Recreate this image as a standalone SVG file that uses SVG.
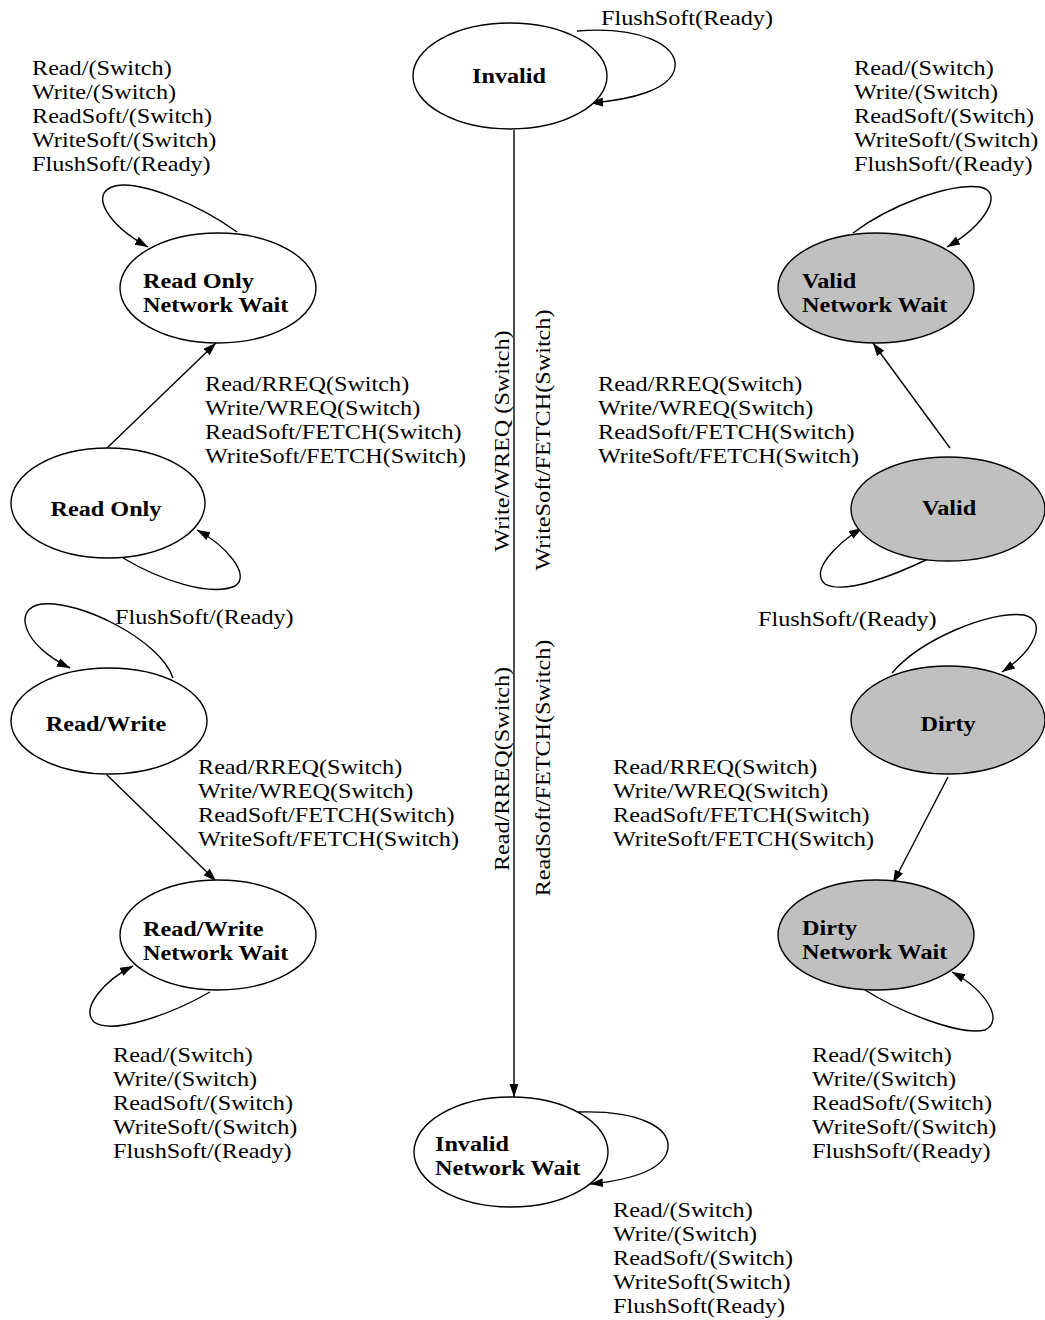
<svg xmlns="http://www.w3.org/2000/svg" width="1045" height="1320" viewBox="0 0 1045 1320">
<defs>
<marker id="arr" markerUnits="userSpaceOnUse" markerWidth="14" markerHeight="10" refX="13" refY="4.5" orient="auto">
<path d="M0,0 L13,4.5 L0,9 z" fill="#000"/>
</marker>
</defs>
<style>
.node ellipse{stroke:#000;stroke-width:1.4}
.w{fill:#fff}
.g{fill:#c0c0c0}
.nl{font-family:"Liberation Serif","Times New Roman",serif;font-size:22px;font-weight:bold;fill:#000}
.el{font-family:"Liberation Serif","Times New Roman",serif;font-size:22px;fill:#000}
.edges path{fill:none;stroke:#000;stroke-width:1.4;marker-end:url(#arr)}
</style>
<rect width="1045" height="1320" fill="#fff"/>

<g id="edges" class="edges">
<path d="M514,130 L514,1097"/>
<path d="M577,31 C640,26 678,45 675,67 C672,90 630,100 590,103"/>
<path d="M578,1112 C640,1110 670,1128 668,1148 C665,1170 630,1180 590,1184"/>
<path d="M237,232 C200,205 140,180 115,186 C88,193 108,225 148,247"/>
<path d="M123,558 C160,580 210,597 235,586 C252,575 225,545 197,530"/>
<path d="M173,678 C160,640 80,600 42,604 C12,608 22,645 70,668"/>
<path d="M210,992 C170,1015 112,1035 94,1022 C80,1008 105,980 133,966"/>
<path d="M853,233 C890,205 950,183 980,187 C1005,192 985,225 947,247"/>
<path d="M930,558 C895,575 845,595 825,584 C810,571 835,545 862,528"/>
<path d="M892,673 C920,640 990,610 1024,615 C1048,621 1035,650 1002,672"/>
<path d="M865,990 C900,1012 960,1036 985,1030 C1005,1020 985,990 952,972"/>
<path d="M107,448 L216,343"/>
<path d="M950,448 L873,343"/>
<path d="M107,775 L216,881"/>
<path d="M948,777 L893,883"/>
</g>

<g id="edge-labels">
<g transform="translate(601,25) scale(1.1,1)"><text class="el">FlushSoft(Ready)</text></g>
<g transform="translate(32,75) scale(1.1,1)"><text class="el"><tspan x="0" y="0">Read/(Switch)</tspan><tspan x="0" dy="24">Write/(Switch)</tspan><tspan x="0" dy="24">ReadSoft/(Switch)</tspan><tspan x="0" dy="24">WriteSoft/(Switch)</tspan><tspan x="0" dy="24">FlushSoft/(Ready)</tspan></text></g>
<g transform="translate(854,75) scale(1.1,1)"><text class="el"><tspan x="0" y="0">Read/(Switch)</tspan><tspan x="0" dy="24">Write/(Switch)</tspan><tspan x="0" dy="24">ReadSoft/(Switch)</tspan><tspan x="0" dy="24">WriteSoft/(Switch)</tspan><tspan x="0" dy="24">FlushSoft/(Ready)</tspan></text></g>
<g transform="translate(205,391) scale(1.1,1)"><text class="el"><tspan x="0" y="0">Read/RREQ(Switch)</tspan><tspan x="0" dy="24">Write/WREQ(Switch)</tspan><tspan x="0" dy="24">ReadSoft/FETCH(Switch)</tspan><tspan x="0" dy="24">WriteSoft/FETCH(Switch)</tspan></text></g>
<g transform="translate(598,391) scale(1.1,1)"><text class="el"><tspan x="0" y="0">Read/RREQ(Switch)</tspan><tspan x="0" dy="24">Write/WREQ(Switch)</tspan><tspan x="0" dy="24">ReadSoft/FETCH(Switch)</tspan><tspan x="0" dy="24">WriteSoft/FETCH(Switch)</tspan></text></g>
<g transform="translate(115,624) scale(1.1,1)"><text class="el">FlushSoft/(Ready)</text></g>
<g transform="translate(758,626) scale(1.1,1)"><text class="el">FlushSoft/(Ready)</text></g>
<g transform="translate(198,774) scale(1.1,1)"><text class="el"><tspan x="0" y="0">Read/RREQ(Switch)</tspan><tspan x="0" dy="24">Write/WREQ(Switch)</tspan><tspan x="0" dy="24">ReadSoft/FETCH(Switch)</tspan><tspan x="0" dy="24">WriteSoft/FETCH(Switch)</tspan></text></g>
<g transform="translate(613,774) scale(1.1,1)"><text class="el"><tspan x="0" y="0">Read/RREQ(Switch)</tspan><tspan x="0" dy="24">Write/WREQ(Switch)</tspan><tspan x="0" dy="24">ReadSoft/FETCH(Switch)</tspan><tspan x="0" dy="24">WriteSoft/FETCH(Switch)</tspan></text></g>
<g transform="translate(113,1062) scale(1.1,1)"><text class="el"><tspan x="0" y="0">Read/(Switch)</tspan><tspan x="0" dy="24">Write/(Switch)</tspan><tspan x="0" dy="24">ReadSoft/(Switch)</tspan><tspan x="0" dy="24">WriteSoft/(Switch)</tspan><tspan x="0" dy="24">FlushSoft/(Ready)</tspan></text></g>
<g transform="translate(812,1062) scale(1.1,1)"><text class="el"><tspan x="0" y="0">Read/(Switch)</tspan><tspan x="0" dy="24">Write/(Switch)</tspan><tspan x="0" dy="24">ReadSoft/(Switch)</tspan><tspan x="0" dy="24">WriteSoft/(Switch)</tspan><tspan x="0" dy="24">FlushSoft/(Ready)</tspan></text></g>
<g transform="translate(613,1217) scale(1.1,1)"><text class="el"><tspan x="0" y="0">Read/(Switch)</tspan><tspan x="0" dy="24">Write/(Switch)</tspan><tspan x="0" dy="24">ReadSoft/(Switch)</tspan><tspan x="0" dy="24">WriteSoft(Switch)</tspan><tspan x="0" dy="24">FlushSoft(Ready)</tspan></text></g>
<g transform="translate(509,441) rotate(-90) scale(1.1,1)"><text class="el" text-anchor="middle">Write/WREQ (Switch)</text></g>
<g transform="translate(550,440) rotate(-90) scale(1.1,1)"><text class="el" text-anchor="middle">WriteSoft/FETCH(Switch)</text></g>
<g transform="translate(509,769) rotate(-90) scale(1.1,1)"><text class="el" text-anchor="middle">Read/RREQ(Switch)</text></g>
<g transform="translate(550,768) rotate(-90) scale(1.1,1)"><text class="el" text-anchor="middle">ReadSoft/FETCH(Switch)</text></g>
</g>

<g id="n-invalid" class="node"><ellipse class="w" cx="510" cy="76" rx="97" ry="53"/><g transform="translate(509,83) scale(1.1,1)"><text class="nl" text-anchor="middle">Invalid</text></g></g>
<g id="n-ronw" class="node"><ellipse class="w" cx="218" cy="288" rx="98" ry="55"/><g transform="translate(143,288) scale(1.1,1)"><text class="nl"><tspan x="0" y="0">Read Only</tspan><tspan x="0" dy="24">Network Wait</tspan></text></g></g>
<g id="n-readonly" class="node"><ellipse class="w" cx="108" cy="503" rx="97" ry="55"/><g transform="translate(106,516) scale(1.1,1)"><text class="nl" text-anchor="middle">Read Only</text></g></g>
<g id="n-readwrite" class="node"><ellipse class="w" cx="109" cy="721" rx="98" ry="53"/><g transform="translate(106,731) scale(1.1,1)"><text class="nl" text-anchor="middle">Read/Write</text></g></g>
<g id="n-rwnw" class="node"><ellipse class="w" cx="218" cy="935" rx="98" ry="55"/><g transform="translate(143,936) scale(1.1,1)"><text class="nl"><tspan x="0" y="0">Read/Write</tspan><tspan x="0" dy="24">Network Wait</tspan></text></g></g>
<g id="n-vnw" class="node"><ellipse class="g" cx="876" cy="288" rx="98" ry="55"/><g transform="translate(802,288) scale(1.1,1)"><text class="nl"><tspan x="0" y="0">Valid</tspan><tspan x="0" dy="24">Network Wait</tspan></text></g></g>
<g id="n-valid" class="node"><ellipse class="g" cx="948" cy="509" rx="97" ry="52"/><g transform="translate(949,515) scale(1.1,1)"><text class="nl" text-anchor="middle">Valid</text></g></g>
<g id="n-dirty" class="node"><ellipse class="g" cx="948" cy="720" rx="97" ry="54"/><g transform="translate(948,731) scale(1.1,1)"><text class="nl" text-anchor="middle">Dirty</text></g></g>
<g id="n-dnw" class="node"><ellipse class="g" cx="876" cy="935" rx="98" ry="55"/><g transform="translate(802,935) scale(1.1,1)"><text class="nl"><tspan x="0" y="0">Dirty</tspan><tspan x="0" dy="24">Network Wait</tspan></text></g></g>
<g id="n-inw" class="node"><ellipse class="w" cx="511" cy="1152" rx="97" ry="55"/><g transform="translate(435,1151) scale(1.1,1)"><text class="nl"><tspan x="0" y="0">Invalid</tspan><tspan x="0" dy="24">Network Wait</tspan></text></g></g>
</svg>
